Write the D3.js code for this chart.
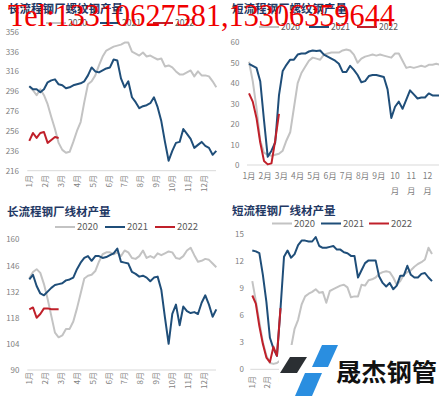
<!DOCTYPE html>
<html>
<head>
<meta charset="utf-8">
<script src="https://cdn.jsdelivr.net/npm/d3@7/dist/d3.min.js"></script>
<style>
  body { margin: 0; background: #fff; }
  svg { display: block; }
</style>
</head>
<body>
<svg id="chart" width="439" height="396"></svg>
<script>
// Data (weekly, 52 weeks per year)
var months = ['1月', '2月', '3月', '4月', '5月', '6月', '7月', '8月', '9月', '10月', '11月', '12月']
var years = ['2020', '2021', '2022']

// 长流程钢厂螺纹钢产量
var longRebar2020 = [301, 297, 292, 298, 292, 283, 270, 258, 244, 237, 234, 235, 245, 256, 265, 285, 303, 306, 312, 322, 331, 337, 339, 341, 342, 343, 345, 345, 336, 334, 332, 335, 331, 332, 330, 328, 329, 321, 322, 320, 316, 313, 313, 315, 317, 311, 316, 312, 312, 311, 306, 300]
var longRebar2021 = [301, 298, 298, 295, 298, 305, 307, 308, 303, 302, 299, 300, 302, 303, 304, 306, 312, 320, 316, 315, 317, 319, 320, 328, 327, 309, 300, 306, 290, 285, 279, 281, 282, 284, 290, 280, 266, 245, 226, 236, 244, 245, 258, 253, 248, 239, 242, 245, 241, 239, 232, 236]
var longRebar2022 = [246, 254, 249, 254, 255, 244, 247, 250, 249]

// 短流程钢厂螺纹钢产量
var shortRebar2020 = [50.5, 41, 28, 12, 6, 5, 4.5, 5, 5.5, 7, 12, 16, 28, 40, 45, 48, 51, 52.5, 52, 51.5, 54, 54.5, 55, 55, 55, 56, 56.5, 56, 54, 50, 52, 53, 53.5, 54, 53.5, 54, 53.5, 53, 52.5, 54.5, 54.5, 51, 47.5, 48, 47.5, 48, 48.5, 48, 49, 49, 49.5, 49]
var shortRebar2021 = [49.5, 48.5, 47.5, 41, 22, 4, 7, 11, 34, 46, 49, 51.5, 51.5, 54, 54.5, 54.5, 55.5, 56, 55.8, 56, 54, 53, 52, 51, 49.5, 45.5, 45.5, 48.5, 46.5, 44, 40.5, 41, 43.5, 44, 44, 43.5, 43, 37, 23, 28.5, 31, 27.5, 32, 36.5, 34.5, 32.5, 33, 33, 35, 34, 34, 34]
var shortRebar2022 = [35, 31, 23, 11, 2, 0.3, 0.8, 12, 25]

// 长流程钢厂线材产量
var longWire2020 = [139, 142.5, 144, 142, 136, 128, 119, 110, 107.5, 108.5, 112, 112, 116, 123, 131, 139, 140.5, 141, 143, 148, 152, 153, 153, 152, 153, 151, 154, 153, 150, 149.5, 151, 154, 150, 151, 150, 152.5, 151.5, 152.5, 153.5, 153, 150, 149.5, 151, 154, 155.5, 151.5, 148, 148.5, 149.5, 149, 147, 145]
var longWire2021 = [138.5, 141, 135, 131, 130, 132, 134, 135.5, 136, 136.5, 138, 138.5, 139.5, 144, 147.5, 150, 151, 148.5, 151, 151, 150, 150.5, 151.5, 152.5, 155, 148, 147.5, 147, 142.5, 141.5, 140, 140.5, 139.5, 137.5, 139.5, 140, 133, 118, 104, 120, 125, 114, 124, 121.5, 120.5, 121, 120, 126, 130, 125, 118.5, 122.5]
var longWire2022 = [122.5, 123.5, 118, 120, 123, 123, 122.5, 122.5, 122.5]

// 短流程钢厂线材产量
var shortWire2020 = [9.8, 7.6, 5.3, 3, 1.5, 0.7, 0.6, 0.7, 1, 1.5, 2, 2.4, 4.5, 5.5, 7.2, 8.1, 8.4, 8.6, 8.9, 8.5, 8.6, 7.4, 8.7, 8.9, 9.1, 9.3, 9.4, 9.1, 8, 8.1, 8.1, 9.4, 9.3, 9.9, 10, 10.2, 10.6, 10.8, 10.9, 10.8, 10.2, 9.4, 9.8, 10.5, 10.8, 11, 11.4, 11.7, 11.9, 12.2, 13.5, 12.8]
var shortWire2021 = [13.2, 13.1, 12.9, 10.5, 7.5, 3.5, 2.3, 1.5, 6.7, 12.5, 13.2, 12.4, 12.8, 13.8, 14.3, 14.3, 14.2, 14.2, 14.7, 13.7, 13.5, 13.5, 13.6, 13.7, 13.3, 13.3, 13, 12.9, 12.6, 12.6, 10.2, 11, 11.8, 12.1, 12.1, 12.1, 10.3, 9.6, 9.2, 9.6, 8.9, 9.3, 10.4, 10.4, 11.5, 10.5, 10.2, 10.2, 10.6, 10.7, 10.2, 9.8]
var shortWire2022 = [8.2, 7.3, 4.8, 2.8, 1.3, 0.8, 2.5, 1.5, 6.8]

var COLORS = { '2020': '#c3c3c3', '2021': '#1f4e79', '2022': '#c0202a' }
var TEXT_GRAY = '#7f7f7f'
var FONT = '"Noto Sans CJK SC", "Noto Sans", sans-serif'

var svg = d3.select('#chart')

function drawPanel (opt) {
  var g = svg.append('g')
  var x = d3.scaleLinear().domain([0, 51]).range(opt.xRange)
  var y = d3.scaleLinear().domain(opt.yDomain).range(opt.yRange)

  // title
  g.append('text')
    .attr('x', opt.titlePos[0]).attr('y', opt.titlePos[1])
    .attr('font-family', FONT).attr('font-weight', 'bold')
    .attr('font-size', 11.5).attr('fill', '#1f3864')
    .text(opt.title)

  // legend
  var leg = g.selectAll('.leg').data(years).enter().append('g')
    .attr('transform', function (d, i) { return 'translate(' + opt.legendX[i] + ',' + opt.legendY + ')' })
  leg.append('line').attr('x1', 0).attr('x2', 20).attr('y1', 0).attr('y2', 0)
    .attr('stroke', function (d) { return COLORS[d] }).attr('stroke-width', 2)
  leg.append('text').attr('x', 22).attr('y', 0).attr('dy', '0.35em')
    .attr('font-family', FONT).attr('font-size', opt.legendSize).attr('fill', '#595959')
    .text(function (d) { return d })

  // baseline
  g.append('line')
    .attr('x1', opt.xRange[0] - 2).attr('x2', opt.axisEnd)
    .attr('y1', y(opt.yDomain[0])).attr('y2', y(opt.yDomain[0]))
    .attr('stroke', '#d9d9d9').attr('stroke-width', 1)

  // y axis
  var yAxis = d3.axisLeft(y)
    .tickValues(d3.range(opt.yDomain[0], opt.yDomain[1] + opt.yStep / 2, opt.yStep))
    .tickSize(0).tickPadding(0)
  var ya = g.append('g').attr('transform', 'translate(' + opt.yLabelX + ',0)').call(yAxis)
  ya.select('.domain').remove()
  ya.selectAll('text').attr('font-family', FONT).attr('font-size', 8).attr('fill', TEXT_GRAY)

  // x labels
  var mx = function (i) { return x(i * 52 / 12) }
  if (opt.rotated) {
    g.selectAll('.xl').data(months).enter().append('text')
      .attr('transform', function (d, i) { return 'translate(' + mx(i) + ',' + opt.xLabelY + ') rotate(-90)' })
      .attr('text-anchor', 'end').attr('dy', '0.35em')
      .attr('font-family', FONT).attr('font-size', 8).attr('fill', TEXT_GRAY)
      .text(function (d) { return d })
  } else {
    var xl = g.selectAll('.xl').data(months).enter().append('text')
      .attr('x', function (d, i) { return mx(i) }).attr('y', opt.xLabelY)
      .attr('text-anchor', 'middle')
      .attr('font-family', FONT).attr('font-size', 8.5).attr('fill', TEXT_GRAY)
    xl.each(function (d) {
      var t = d3.select(this)
      if (d.length > 2) {
        t.append('tspan').attr('x', t.attr('x')).text(d.slice(0, 2))
        t.append('tspan').attr('x', t.attr('x')).attr('dy', 15.5).text('月')
      } else {
        t.text(d)
      }
    })
  }

  // lines
  var line = d3.line()
    .x(function (d, i) { return x(i) })
    .y(function (d) { return y(d) })
  g.selectAll('.series').data(opt.series).enter().append('path')
    .attr('d', function (d) { return line(d.values) })
    .attr('fill', 'none')
    .attr('stroke', function (d) { return COLORS[d.year] })
    .attr('stroke-width', 2)
    .attr('stroke-linejoin', 'round')
}

drawPanel({
  title: '长流程钢厂螺纹钢产量', titlePos: [8, 13],
  legendX: [46, 100, 153], legendY: 23, legendSize: 8.5,
  xRange: [29.3, 216.3], axisEnd: 216, yDomain: [216, 356], yRange: [170.7, 31.7], yStep: 20,
  yLabelX: 19, rotated: true, xLabelY: 175,
  series: [{ year: '2020', values: longRebar2020 }, { year: '2021', values: longRebar2021 }, { year: '2022', values: longRebar2022 }]
})

drawPanel({
  title: '短流程钢厂螺纹钢产量', titlePos: [232, 13],
  legendX: [259, 309, 357], legendY: 27, legendSize: 8.5,
  xRange: [249, 440], axisEnd: 439, yDomain: [0, 60], yRange: [165, 42.3], yStep: 10,
  yLabelX: 239.5, rotated: false, xLabelY: 178.5,
  series: [{ year: '2020', values: shortRebar2020 }, { year: '2021', values: shortRebar2021 }, { year: '2022', values: shortRebar2022 }]
})

drawPanel({
  title: '长流程钢厂线材产量', titlePos: [7, 216],
  legendX: [55, 105, 155], legendY: 227, legendSize: 9.5,
  xRange: [29.3, 216.3], axisEnd: 216, yDomain: [90, 160], yRange: [370, 239.3], yStep: 14,
  yLabelX: 19.5, rotated: true, xLabelY: 372,
  series: [{ year: '2020', values: longWire2020 }, { year: '2021', values: longWire2021 }, { year: '2022', values: longWire2022 }]
})

drawPanel({
  title: '短流程钢厂线材产量', titlePos: [232, 214.5],
  legendX: [272, 321, 369], legendY: 223.5, legendSize: 9.5,
  xRange: [252.3, 432], axisEnd: 432, yDomain: [0, 15], yRange: [369.3, 234.3], yStep: 3,
  yLabelX: 244, rotated: true, xLabelY: 376,
  series: [{ year: '2020', values: shortWire2020 }, { year: '2021', values: shortWire2021 }, { year: '2022', values: shortWire2022 }]
})

// logo block (bottom right)
var logo = svg.append('g')
logo.append('rect').attr('x', 279).attr('y', 345).attr('width', 160).attr('height', 51).attr('fill', '#fff')
logo.append('polygon').attr('points', '290,357 307,357 297,373 280,373').attr('fill', '#2b2f33')
logo.append('polygon').attr('points', '322,345 338,345 328,367 312,367').attr('fill', '#2a8ee0')
logo.append('polygon').attr('points', '305,373 322,373 312,396 295,396').attr('fill', '#2a8ee0')
logo.append('text')
  .attr('x', 336).attr('y', 381)
  .attr('font-family', FONT).attr('font-weight', 'bold').attr('font-size', 24)
  .attr('textLength', 101).attr('lengthAdjust', 'spacingAndGlyphs')
  .attr('fill', '#111')
  .text('晟杰钢管')

// red phone watermark on top
svg.append('text')
  .attr('x', 8).attr('y', 26)
  .attr('font-family', '"Liberation Serif", "DejaVu Serif", serif')
  .attr('font-size', 32)
  .attr('textLength', 387).attr('lengthAdjust', 'spacingAndGlyphs')
  .attr('fill', '#f00000')
  .text('Tel:13310627581,13306359644')
</script>
</body>
</html>
